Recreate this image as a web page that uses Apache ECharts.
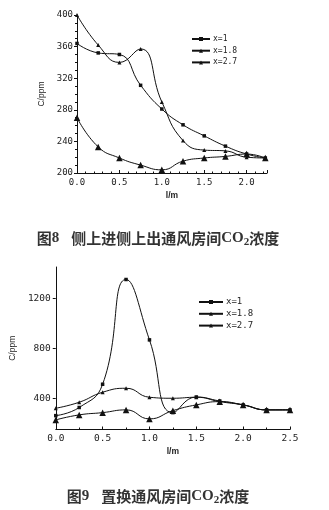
<!DOCTYPE html>
<html>
<head>
<meta charset="utf-8">
<script src="https://cdn.jsdelivr.net/npm/echarts@6/dist/echarts.min.js"></script>
<style>
  html, body { margin: 0; padding: 0; background: #fff; }
  #chart { width: 329px; height: 510px; }
</style>
</head>
<body>
<div id="chart"></div>
<script>
// Figure 8: side inlet / side outlet ventilation
const fig8X = [0, 0.25, 0.5, 0.75, 1.0, 1.25, 1.5, 1.75, 2.0, 2.22];
const fig8X1 = [364, 352, 350, 311, 281, 261, 247, 234, 224, 219];
const fig8X18 = [400, 362, 340, 357, 290, 241, 229, 228, 220, 219];
const fig8X27 = [270, 233, 219, 210, 204, 215, 219, 221, 224, 219];

// Figure 9: displacement ventilation
const fig9X = [0, 0.25, 0.5, 0.75, 1.0, 1.25, 1.5, 1.75, 2.0, 2.25, 2.5];
const fig9X1 = [261, 326, 512, 1350, 867, 285, 410, 378, 347, 307, 307];
const fig9X18 = [320, 368, 448, 480, 408, 400, 408, 373, 347, 307, 307];
const fig9X27 = [227, 267, 285, 307, 235, 301, 347, 373, 347, 307, 307];

const seriesNames = ['x=1', 'x=1.8', 'x=2.7'];
const fig9YTicks = [400, 800, 1200];

const ink = '#111';
const monoFont = 'DejaVu Sans Mono';
const markers = [
  { symbol: 'rect', symbolSize: 3.5 },
  { symbol: 'triangle', symbolSize: 4 },
  { symbol: 'triangle', symbolSize: 6.5 }
];

function pairs(xs, ys) { return xs.map((x, i) => [x, ys[i]]); }

function makeSeries(idx, xs, ys, name, k) {
  return {
    type: 'line',
    name: name,
    xAxisIndex: idx,
    yAxisIndex: idx,
    data: pairs(xs, ys),
    smooth: 0.5,
    symbol: markers[k].symbol,
    symbolSize: markers[k].symbolSize,
    showAllSymbol: true,
    lineStyle: { color: ink, width: 1 },
    itemStyle: { color: ink },
    emphasis: { disabled: true },
    animation: false
  };
}

const axisLabelStyle = { color: '#222', fontFamily: monoFont, fontSize: 9 };
const axisNameStyle = { color: '#222', fontFamily: 'Liberation Sans', fontSize: 8.5 };

function caption(num, body, leftPos, topPos) {
  return {
    text: '{c|图}{l|' + num + '}{g| }{c|' + body + '}{l|CO}{s|2}{c|浓度}',
    left: leftPos,
    top: topPos,
    textAlign: 'center',
    textStyle: {
      rich: {
        c: { fontFamily: 'Noto Sans CJK SC', fontWeight: 'bold', fontSize: 15, color: '#333', lineHeight: 20 },
        l: { fontFamily: 'Liberation Serif', fontWeight: 'bold', fontSize: 15, color: '#333', lineHeight: 20 },
        g: { fontSize: 15, width: 12, lineHeight: 20 },
        s: { fontFamily: 'Liberation Serif', fontWeight: 'bold', fontSize: 11, color: '#333', lineHeight: 11, padding: [9, 0, 0, 0] }
      }
    }
  };
}

function legendBlock(leftPos, topPos, lineW, fontSize, gap) {
  return {
    data: seriesNames,
    orient: 'vertical',
    left: leftPos,
    top: topPos,
    padding: 0,
    itemWidth: lineW,
    itemHeight: 5,
    itemGap: gap,
    textStyle: { fontFamily: monoFont, fontSize: fontSize, lineHeight: fontSize, color: '#222', padding: [0, 0, 0, -2] },
    selectedMode: false
  };
}

const chart = echarts.init(document.getElementById('chart'), null, { renderer: 'canvas' });

chart.setOption({
  backgroundColor: '#fff',
  animation: false,
  title: [
    caption('8', '侧上进侧上出通风房间', 153, 223),
    caption('9', '置换通风房间', 153, 481)
  ],
  legend: [
    legendBlock(191, 35, 18, 8, 3.7),
    legendBlock(198, 297.5, 24, 9, 2.8)
  ],
  grid: [
    { left: 77, top: 15, width: 190, height: 158 },
    { left: 55, top: 267, width: 235, height: 162.5 }
  ],
  xAxis: [
    {
      gridIndex: 0, type: 'value', min: 0, max: 2.24, interval: 0.5,
      name: 'l/m', nameLocation: 'middle', nameGap: 18,
      nameTextStyle: Object.assign({}, axisNameStyle, { fontWeight: 'bold' }),
      axisLine: { lineStyle: { color: ink, width: 1 } },
      axisTick: { inside: true, length: 3, lineStyle: { color: ink } },
      minorTick: { show: true, splitNumber: 5, length: 1.5, lineStyle: { color: ink } },
      axisLabel: Object.assign({}, axisLabelStyle, { margin: 5, showMaxLabel: false, formatter: v => v.toFixed(1) }),
      splitLine: { show: false }
    },
    {
      gridIndex: 1, type: 'value', min: 0, max: 2.5, interval: 0.5,
      name: 'l/m', nameLocation: 'middle', nameGap: 18,
      nameTextStyle: Object.assign({}, axisNameStyle, { fontWeight: 'bold' }),
      axisLine: { lineStyle: { color: ink, width: 1 } },
      axisTick: { inside: true, length: 3, lineStyle: { color: ink } },
      minorTick: { show: true, splitNumber: 2, length: 2, lineStyle: { color: ink } },
      axisLabel: Object.assign({}, axisLabelStyle, { fontSize: 9.5, margin: 4, formatter: v => v.toFixed(1) }),
      splitLine: { show: false }
    }
  ],
  yAxis: [
    {
      gridIndex: 0, type: 'value', min: 200, max: 400, interval: 40,
      name: 'C/ppm', nameLocation: 'middle', nameGap: 20,
      nameTextStyle: axisNameStyle,
      axisLine: { show: true, lineStyle: { color: ink, width: 1 } },
      axisTick: { show: true, length: 3, lineStyle: { color: ink } },
      minorTick: { show: true, splitNumber: 4, length: 2, lineStyle: { color: ink } },
      axisLabel: Object.assign({}, axisLabelStyle, { margin: 4, formatter: v => String(v) }),
      splitLine: { show: false }
    },
    {
      gridIndex: 1, type: 'value', min: 150, max: 1450,
      name: 'C/ppm', nameLocation: 'middle', nameGap: 25,
      nameTextStyle: axisNameStyle,
      axisLine: { show: true, lineStyle: { color: ink, width: 1 } },
      axisTick: { show: true, length: 3, customValues: fig9YTicks, lineStyle: { color: ink } },
      axisLabel: Object.assign({}, axisLabelStyle, { fontSize: 9.5, margin: 5, customValues: fig9YTicks, formatter: v => String(v) }),
      splitLine: { show: false }
    }
  ],
  series: [
    makeSeries(0, fig8X, fig8X1, seriesNames[0], 0),
    makeSeries(0, fig8X, fig8X18, seriesNames[1], 1),
    makeSeries(0, fig8X, fig8X27, seriesNames[2], 2),
    makeSeries(1, fig9X, fig9X1, seriesNames[0], 0),
    makeSeries(1, fig9X, fig9X18, seriesNames[1], 1),
    makeSeries(1, fig9X, fig9X27, seriesNames[2], 2)
  ]
});
</script>
</body>
</html>
